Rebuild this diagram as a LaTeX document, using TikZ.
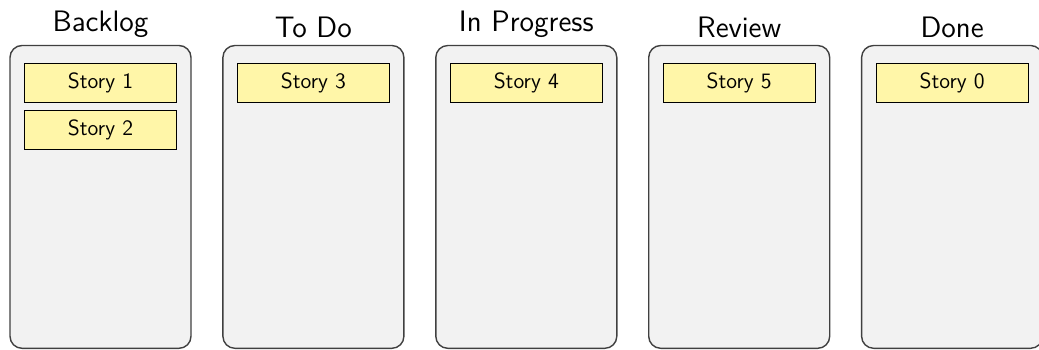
\documentclass[tikz,border=0pt]{standalone}
\usetikzlibrary{positioning}
\definecolor{cardyellow}{RGB}{255,246,168}
\definecolor{lanegray}{RGB}{242,242,242}

\begin{document}
\begin{tikzpicture}[x=0.5pt,y=-0.5pt,font=\sffamily\fontsize{11}{13}\selectfont,
    lane/.style={draw=black!75, fill=lanegray, line width=0.7pt, rounded corners=6pt,
      minimum width=90.5pt, minimum height=151.4pt, inner sep=0pt},
    lanetitle/.style={font=\sffamily\fontsize{14.8}{18}\selectfont},
    card/.style={draw=black, fill=cardyellow, line width=0.5pt,
      minimum width=76pt, minimum height=19.35pt, inner sep=0pt}]
  \useasboundingbox (0,0) rectangle (1039,349);
  % Draw the lanes with their titles
  \foreach \name [count=\i from 0] in {Backlog, To Do, In Progress, Review, Done} {
    \node[lane] (lane\i) at ({100.5+212.9*\i},196.9) {};
    \node[lanetitle, above=0pt of lane\i.north] (title\i) {\name};
  }
  % Story cards in each lane
  \node[card, below=9.25pt of lane0.north] (story1) {Story 1};
  \node[card, below=3.65pt of story1] (story2) {Story 2};
  \node[card, below=9.25pt of lane1.north] (story3) {Story 3};
  \node[card, below=9.25pt of lane2.north] (story4) {Story 4};
  \node[card, below=9.25pt of lane3.north] (story5) {Story 5};
  \node[card, below=9.25pt of lane4.north] (story0) {Story 0};
\end{tikzpicture}
\end{document}
